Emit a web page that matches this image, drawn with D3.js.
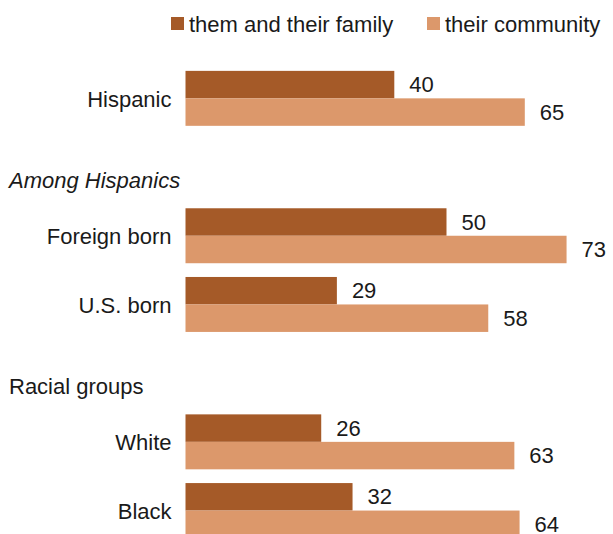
<!DOCTYPE html>
<html>
<head>
<meta charset="utf-8">
<script src="https://cdn.jsdelivr.net/npm/d3@7"></script>
<style>
  html, body { margin: 0; padding: 0; background: #fff; }
  svg { display: block; font-family: "Liberation Sans", Arial, sans-serif; }
</style>
</head>
<body>
<svg id="chart" width="613" height="534"></svg>
<script>
// Rows in drawing order; headers introduce a section of rows
const slots = ["Hispanic", "hdr:Among Hispanics", "Foreign born", "U.S. born", "hdr:Racial groups", "White", "Black"];
const categories = ["Hispanic", "Foreign born", "U.S. born", "White", "Black"];
const headers = ["Among Hispanics", "Racial groups"];
const headerItalic = [true, false];
const seriesNames = ["them and their family", "their community"];
const familyValues = [40, 50, 29, 26, 32];
const communityValues = [65, 73, 58, 63, 64];
const colors = ["#a55a28", "#dc986b"];

const svg = d3.select("#chart");
const textColor = "#1a1a1a";
const fontSize = 22;

const x = d3.scaleLinear().domain([0, 100]).range([185.5, 185.5 + 522]);

const step = 68.7;
const y = d3.scaleBand()
  .domain(slots)
  .range([64, 64 + step * slots.length])
  .paddingInner(0.2)
  .paddingOuter(0.1);

const sub = d3.scaleBand()
  .domain(seriesNames)
  .range([0, y.bandwidth()]);

const rows = categories.map((c, i) => ({
  cat: c,
  values: [familyValues[i], communityValues[i]]
}));

// Bars with value labels
const g = svg.append("g");
rows.forEach(r => {
  const gy = y(r.cat);
  r.values.forEach((v, j) => {
    g.append("rect")
      .attr("x", x(0))
      .attr("y", gy + sub(seriesNames[j]))
      .attr("width", x(v) - x(0))
      .attr("height", sub.bandwidth())
      .attr("fill", colors[j]);
    g.append("text")
      .attr("x", x(v) + 15)
      .attr("y", gy + sub(seriesNames[j]) + sub.bandwidth() / 2)
      .attr("dominant-baseline", "central")
      .attr("font-size", fontSize)
      .attr("fill", textColor)
      .text(v);
  });
  // Category label
  g.append("text")
    .attr("x", x(0) - 14)
    .attr("y", gy + y.bandwidth() / 2 + 1)
    .attr("text-anchor", "end")
    .attr("dominant-baseline", "central")
    .attr("font-size", fontSize)
    .attr("fill", textColor)
    .text(r.cat);
});

// Section headers
headers.forEach((h, i) => {
  const slot = "hdr:" + h;
  svg.append("text")
    .attr("x", 9)
    .attr("y", y(slot) + y.bandwidth() / 2 + 13)
    .attr("dominant-baseline", "central")
    .attr("font-size", fontSize)
    .attr("font-style", headerItalic[i] ? "italic" : "normal")
    .attr("fill", textColor)
    .text(h);
});

// Legend
const legendX = [171, 427];
seriesNames.forEach((s, i) => {
  const lg = svg.append("g").attr("transform", `translate(${legendX[i]},0)`);
  lg.append("rect").attr("x", 0).attr("y", 17).attr("width", 13).attr("height", 13).attr("fill", colors[i]);
  lg.append("text")
    .attr("x", 18)
    .attr("y", 24)
    .attr("dominant-baseline", "central")
    .attr("font-size", fontSize)
    .attr("fill", textColor)
    .text(s);
});
</script>
</body>
</html>
